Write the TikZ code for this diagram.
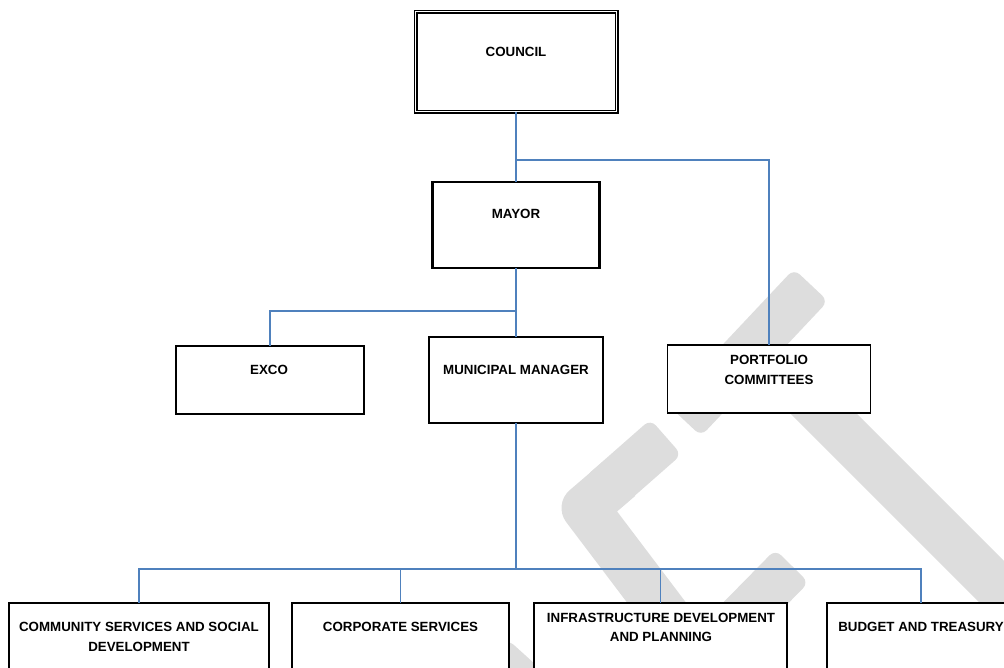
\documentclass[tikz,border=0pt]{standalone}
\usepackage{fontspec}
\setmainfont{Liberation Sans}
\usetikzlibrary{calc}
\definecolor{linkblue}{RGB}{79,129,189}
\definecolor{wmgray}{RGB}{221,221,221}
\newcommand\wmband[2]{\fill[wmgray, rounded corners=6pt]
  ($(#1)!17.6pt!90:(#2)$) -- ($(#2)!17.6pt!-90:(#1)$) --
  ($(#2)!17.6pt!90:(#1)$) -- ($(#1)!17.6pt!-90:(#2)$) -- cycle;}
\begin{document}
\begin{tikzpicture}[x=0.75pt,y=-0.75pt,
  box/.style={draw=black, fill=white, line width=0.9pt, inner sep=0pt, outer sep=0pt},
  thickbox/.style={box, line width=1.6pt},
  lbl/.style={font=\bfseries\fontsize{10}{14.5}\selectfont, align=center, inner sep=0pt},
  conn/.style={draw=linkblue, line width=0.9pt},
  wm/.style={draw=wmgray, line width=35.25pt, line cap=butt, line join=round}]
\useasboundingbox (0,0) rectangle (1004,668);
\clip (0,0) rectangle (1004,668);
% watermark
\wmband{811,285}{684,420}
\wmband{775,365}{1070,660}
\wmband{666,437}{600,495}
\draw[wm] (620,478) -- (585,508) -- (700,660);
\wmband{680,680}{792,566}
\wmband{430,760}{525,655}
% boxes
\node[box, double, double distance=1.4pt, line width=0.8pt, minimum width=150.75pt, minimum height=75pt] (council) at (516,61.5) {};
\node[thickbox, minimum width=125.25pt, minimum height=64.5pt] (mayor) at (516,225) {};
\node[box, minimum width=141pt, minimum height=51pt] (exco) at (270,380) {};
\node[thickbox, minimum width=130.5pt, minimum height=64.5pt] (mm) at (516,380) {};
\node[box, minimum width=152.25pt, minimum height=51pt] (portfolio) at (769,379) {};
\node[box, minimum width=195pt, minimum height=87.75pt] (community) at (139,661.5) {};
\node[box, minimum width=162.75pt, minimum height=87.75pt] (corporate) at (400.5,661.5) {};
\node[box, minimum width=189.75pt, minimum height=87.75pt] (infra) at (660.5,661.5) {};
\node[box, minimum width=141pt, minimum height=87.75pt] (budget) at (921,661.5) {};
% labels
\node[lbl] (councilt) at (516,52) {COUNCIL};
\node[lbl] (mayort) at (516,214) {MAYOR};
\node[lbl] (excot) at (269,370) {EXCO};
\node[lbl] (mmt) at (516,370) {MUNICIPAL MANAGER};
\node[lbl] (portfoliot) at (769,370) {PORTFOLIO\\COMMITTEES};
\node[lbl] (communityt) at (139,637) {COMMUNITY SERVICES AND SOCIAL\\DEVELOPMENT};
\node[lbl] (corporatet) at (400.5,627) {CORPORATE SERVICES};
\node[lbl] (infrat) at (661,627.5) {INFRASTRUCTURE DEVELOPMENT\\AND PLANNING};
\node[lbl] (budgett) at (921,627) {BUDGET AND TREASURY};
% connectors
\coordinate (j1) at (516,160);
\coordinate (j2) at (516,311);
\coordinate (j3) at (516,569);
\draw[conn] (council.south) -- (mayor.north);
\draw[conn] (j1) -| (portfolio.north);
\draw[conn] (mayor.south) -- (mm.north);
\draw[conn] (j2) -| (exco.north);
\draw[conn] (mm.south) -- (j3);
\draw[conn] (j3) -| (community.north);
\draw[conn] (j3) -| (corporate.north);
\draw[conn] (j3) -| (infra.north);
\draw[conn] (j3) -| (budget.north);
\end{tikzpicture}
\end{document}
